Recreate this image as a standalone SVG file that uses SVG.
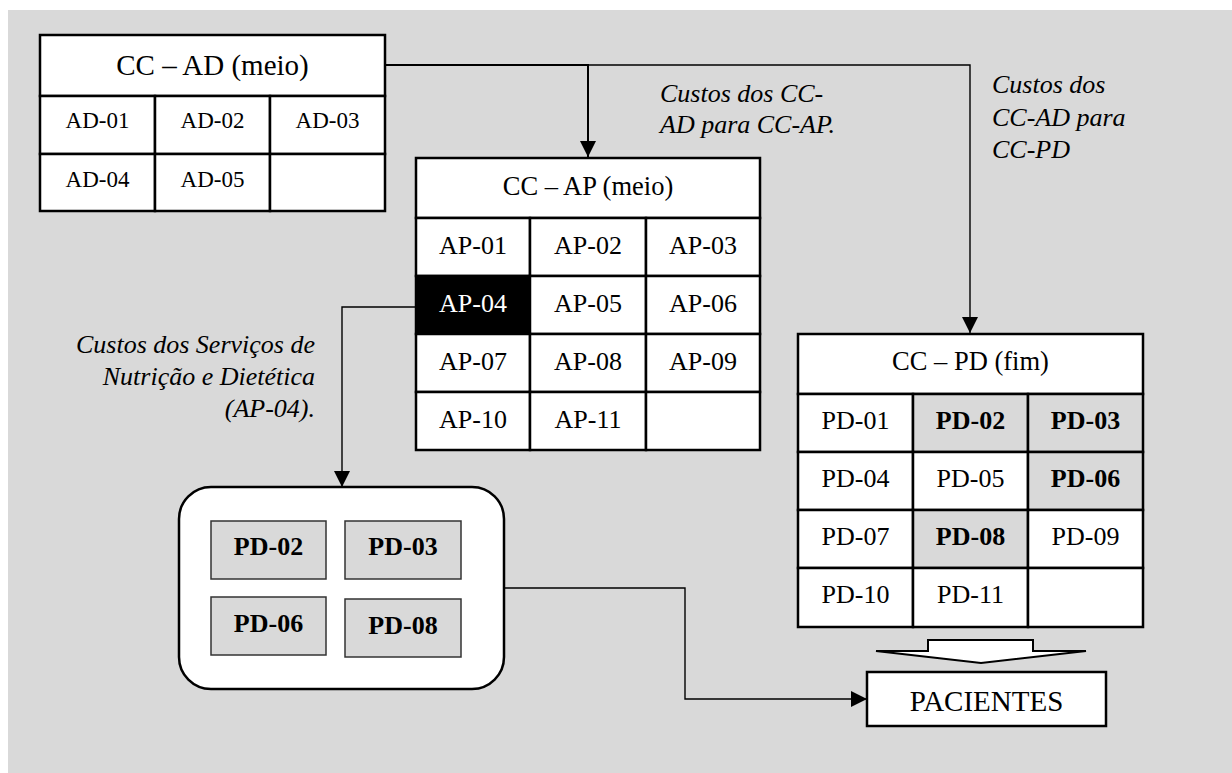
<svg xmlns="http://www.w3.org/2000/svg" width="1232" height="773" viewBox="0 0 1232 773">
<style>
.bg{fill:#d9d9d9}
.cell{fill:#fff;stroke:#000;stroke-width:2.5}
.gcell{fill:#d9d9d9;stroke:#000;stroke-width:2.5}
.blk{fill:#000;stroke:#000;stroke-width:2.5}
.t{font-family:"Liberation Serif","Times New Roman",serif;fill:#000;text-anchor:middle}
.b{font-weight:bold}
.w{fill:#fff}
.lab{font-family:"Liberation Serif","Times New Roman",serif;font-style:italic;font-size:26px;fill:#000}
.con{fill:none;stroke:#000;stroke-width:1.4}
.ibox{fill:#d9d9d9;stroke:#333;stroke-width:1.5}
</style>
<defs>
<marker id="ah" markerUnits="userSpaceOnUse" markerWidth="16" markerHeight="16" viewBox="0 0 14 14" refX="14" refY="7" orient="auto">
<path d="M0,0 L14,7 L0,14 z" fill="#000"/>
</marker>
</defs>
<rect class="bg" x="8" y="10" width="1224" height="763"/>

<g id="connectors">
<path class="con" d="M385,65 H970 V333" marker-end="url(#ah)"/>
<path class="con" style="stroke-width:2" d="M385,65 H588 V157" marker-end="url(#ah)"/>
<path class="con" d="M416,307 H342 V487" marker-end="url(#ah)"/>
<path class="con" d="M504,588 H685 V699 H867" marker-end="url(#ah)"/>
<polygon points="928,640 1033,640 1033,651 1086,651 981,663 876,651 928,651" fill="#fff" stroke="#000" stroke-width="2"/>
</g>

<g id="labels">
<text class="lab" x="660" y="102">Custos dos CC-</text>
<text class="lab" x="660" y="133">AD para CC-AP.</text>
<text class="lab" x="992" y="93">Custos dos</text>
<text class="lab" x="992" y="126">CC-AD para</text>
<text class="lab" x="992" y="158">CC-PD</text>
<text class="lab" x="315" y="353" text-anchor="end">Custos dos Serviços de</text>
<text class="lab" x="315" y="385" text-anchor="end">Nutrição e Dietética</text>
<text class="lab" x="315" y="417" text-anchor="end">(AP-04).</text>
</g>

<g id="cc-ad">
<rect class="cell" x="40" y="35" width="345" height="61"/>
<text class="t" x="212.5" y="75" font-size="29">CC – AD (meio)</text>
<rect class="cell" x="40" y="96" width="115" height="58"/>
<rect class="cell" x="155" y="96" width="115" height="58"/>
<rect class="cell" x="270" y="96" width="115" height="58"/>
<rect class="cell" x="40" y="154" width="115" height="57"/>
<rect class="cell" x="155" y="154" width="115" height="57"/>
<rect class="cell" x="270" y="154" width="115" height="57"/>
<g font-size="23">
<text class="t" x="97.5" y="128" font-size="23">AD-01</text>
<text class="t" x="212.5" y="128" font-size="23">AD-02</text>
<text class="t" x="327.5" y="128" font-size="23">AD-03</text>
<text class="t" x="97.5" y="187" font-size="23">AD-04</text>
<text class="t" x="212.5" y="187" font-size="23">AD-05</text>
</g>
</g>

<g id="cc-ap">
<rect class="cell" x="416" y="158" width="344" height="60"/>
<text class="t" x="588" y="195" font-size="26.5">CC – AP (meio)</text>
<rect class="cell" x="416" y="218" width="114" height="58"/>
<rect class="cell" x="530" y="218" width="116" height="58"/>
<rect class="cell" x="646" y="218" width="114" height="58"/>
<rect class="blk" x="416" y="276" width="114" height="58"/>
<rect class="cell" x="530" y="276" width="116" height="58"/>
<rect class="cell" x="646" y="276" width="114" height="58"/>
<rect class="cell" x="416" y="334" width="114" height="58"/>
<rect class="cell" x="530" y="334" width="116" height="58"/>
<rect class="cell" x="646" y="334" width="114" height="58"/>
<rect class="cell" x="416" y="392" width="114" height="58"/>
<rect class="cell" x="530" y="392" width="116" height="58"/>
<rect class="cell" x="646" y="392" width="114" height="58"/>
<text class="t" x="473" y="254" font-size="26">AP-01</text>
<text class="t" x="588" y="254" font-size="26">AP-02</text>
<text class="t" x="703" y="254" font-size="26">AP-03</text>
<text class="t w" x="473" y="312" font-size="26">AP-04</text>
<text class="t" x="588" y="312" font-size="26">AP-05</text>
<text class="t" x="703" y="312" font-size="26">AP-06</text>
<text class="t" x="473" y="370" font-size="26">AP-07</text>
<text class="t" x="588" y="370" font-size="26">AP-08</text>
<text class="t" x="703" y="370" font-size="26">AP-09</text>
<text class="t" x="473" y="428" font-size="26">AP-10</text>
<text class="t" x="588" y="428" font-size="26">AP-11</text>
</g>

<g id="cc-pd">
<rect class="cell" x="798" y="334" width="345" height="60"/>
<text class="t" x="970.5" y="370" font-size="26.5">CC – PD (fim)</text>
<rect class="cell" x="798" y="394" width="115" height="58"/>
<rect class="gcell" x="913" y="394" width="115" height="58"/>
<rect class="gcell" x="1028" y="394" width="115" height="58"/>
<rect class="cell" x="798" y="452" width="115" height="58"/>
<rect class="cell" x="913" y="452" width="115" height="58"/>
<rect class="gcell" x="1028" y="452" width="115" height="58"/>
<rect class="cell" x="798" y="510" width="115" height="58"/>
<rect class="gcell" x="913" y="510" width="115" height="58"/>
<rect class="cell" x="1028" y="510" width="115" height="58"/>
<rect class="cell" x="798" y="568" width="115" height="59"/>
<rect class="cell" x="913" y="568" width="115" height="59"/>
<rect class="cell" x="1028" y="568" width="115" height="59"/>
<text class="t" x="855.5" y="429" font-size="26">PD-01</text>
<text class="t b" x="970.5" y="429" font-size="26">PD-02</text>
<text class="t b" x="1085.5" y="429" font-size="26">PD-03</text>
<text class="t" x="855.5" y="487" font-size="26">PD-04</text>
<text class="t" x="970.5" y="487" font-size="26">PD-05</text>
<text class="t b" x="1085.5" y="487" font-size="26">PD-06</text>
<text class="t" x="855.5" y="545" font-size="26">PD-07</text>
<text class="t b" x="970.5" y="545" font-size="26">PD-08</text>
<text class="t" x="1085.5" y="545" font-size="26">PD-09</text>
<text class="t" x="855.5" y="603" font-size="26">PD-10</text>
<text class="t" x="970.5" y="603" font-size="26">PD-11</text>
</g>

<g id="nutricao-group">
<rect x="179" y="487" width="325" height="202" rx="32" ry="32" fill="#fff" stroke="#000" stroke-width="2.5"/>
<rect class="ibox" x="211" y="521" width="115" height="58"/>
<rect class="ibox" x="345" y="521" width="116" height="58"/>
<rect class="ibox" x="211" y="597" width="115" height="58"/>
<rect class="ibox" x="345" y="599" width="116" height="58"/>
<text class="t b" x="268.5" y="555" font-size="26">PD-02</text>
<text class="t b" x="403" y="555" font-size="26">PD-03</text>
<text class="t b" x="268.5" y="632" font-size="26">PD-06</text>
<text class="t b" x="403" y="634" font-size="26">PD-08</text>
</g>

<g id="pacientes">
<rect class="cell" x="867" y="672" width="239" height="54"/>
<text class="t" x="986.5" y="711" font-size="29">PACIENTES</text>
</g>
</svg>
